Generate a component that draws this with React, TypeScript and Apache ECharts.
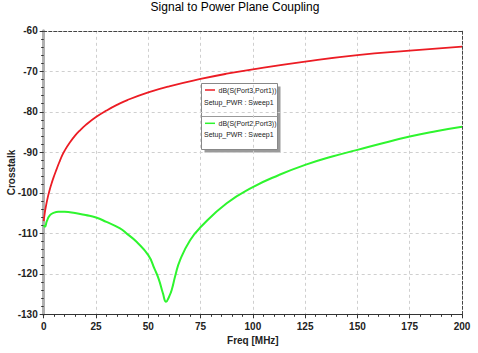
import React, { useEffect, useRef } from "react";
import * as echarts from "echarts";

const freqRed = [0, 0.5, 1, 2, 3, 4, 5, 6, 7.5, 9, 10, 12.5, 15, 17.5, 20, 25, 30, 35, 40, 50, 60, 75, 87.5, 100, 125, 150, 175, 200];
const valRed = [-107, -105, -103.5, -101, -99, -97.3, -95.8, -94.4, -92.4, -90.6, -89.6, -87.6, -85.9, -84.5, -83.3, -81.3, -79.7, -78.3, -77.1, -75.2, -73.7, -71.9, -70.6, -69.5, -67.6, -66, -64.9, -63.9];

const freqGreen = [0, 0.6, 1.5, 3, 5, 7, 10, 15, 20, 25, 30, 36.5, 40, 44.4, 50, 53, 55, 57, 58.5, 60, 61.2, 63, 65.2, 70, 75.2, 87.5, 100, 112.5, 125, 137.5, 150, 162.5, 175, 187.5, 200];
const valGreen = [-108, -108.4, -107, -105.5, -104.9, -104.7, -104.7, -105, -105.5, -106.1, -107.2, -108.8, -110.2, -112.1, -115.4, -118.8, -121.3, -124.8, -126.9, -125.6, -124, -120.3, -116.6, -111.7, -108.4, -102.6, -98.6, -95.6, -93.1, -91.1, -89.4, -87.7, -86.1, -84.8, -83.7];

const seriesNames = ["dB(S(Port3,Port1))", "dB(S(Port2,Port3))"];
const setupLabel = "Setup_PWR : Sweep1";
const xTicks = { min: 0, max: 200, interval: 25 };
const yTicks = { min: -130, max: -60, interval: 10 };

const FONT = "Liberation Sans, Arial, sans-serif";
const RED = "#ec1c24";
const GREEN = "#2ef52e";

export default function App() {
  const ref = useRef<HTMLDivElement>(null);
  useEffect(() => {
    document.body.style.margin = "0";
    if (!ref.current) return;
    const chart = echarts.init(ref.current, undefined, { renderer: "svg" });
    const lx = 201.5, ly = 83.5, lw = 76, lh = 66;
    chart.setOption({
      animation: false,
      backgroundColor: "#ffffff",
      title: {
        text: "Signal to Power Plane Coupling",
        left: 235,
        textAlign: "center",
        top: 1,
        padding: 0,
        textStyle: { fontFamily: FONT, fontSize: 12, fontWeight: "normal", color: "#000" },
      },
      grid: { left: 43.7, right: 16, top: 30.8, bottom: 38.7, containLabel: false, outerBoundsMode: "none" },
      xAxis: [
        {
          type: "value",
          min: xTicks.min,
          max: xTicks.max,
          interval: xTicks.interval,
          name: "Freq [MHz]",
          nameLocation: "middle",
          nameGap: 21,
          nameMoveOverlap: false,
          nameTextStyle: { fontFamily: FONT, fontSize: 10, fontWeight: "bold", color: "#222" },
          axisLine: { onZero: false, lineStyle: { color: "#333", width: 1.2 } },
          axisTick: { show: true, length: 4, lineStyle: { color: "#333" } },
          minorTick: { show: true, splitNumber: 5, length: 2.5, lineStyle: { color: "#333" } },
          axisLabel: { fontFamily: FONT, fontSize: 10, fontWeight: "bold", color: "#222", margin: 7 },
          splitLine: { show: true, lineStyle: { color: "#cfcfcf", type: [3, 3], width: 1 } },
        },
        {
          type: "value",
          position: "top",
          min: xTicks.min,
          max: xTicks.max,
          interval: xTicks.interval,
          axisLine: { show: true, onZero: false, lineStyle: { color: "#444", type: [3, 2], width: 1 } },
          axisTick: { show: false },
          axisLabel: { show: false },
          splitLine: { show: false },
        },
      ],
      yAxis: [
        {
          type: "value",
          min: yTicks.min,
          max: yTicks.max,
          interval: yTicks.interval,
          name: "Crosstalk",
          nameLocation: "middle",
          nameGap: 27,
          nameMoveOverlap: false,
          nameRotate: 90,
          nameTextStyle: { fontFamily: FONT, fontSize: 10, fontWeight: "bold", color: "#222" },
          axisLine: { onZero: false, lineStyle: { color: "#b0b0b0", width: 3 } },
          axisTick: { show: true, length: 4, lineStyle: { color: "#333" } },
          minorTick: { show: true, splitNumber: 5, length: 2.5, lineStyle: { color: "#333" } },
          axisLabel: { fontFamily: FONT, fontSize: 10, fontWeight: "bold", color: "#222", margin: 6 },
          splitLine: { show: true, lineStyle: { color: "#cfcfcf", type: [3, 3], width: 1 } },
        },
        {
          type: "value",
          position: "right",
          min: yTicks.min,
          max: yTicks.max,
          interval: yTicks.interval,
          axisLine: { show: true, onZero: false, lineStyle: { color: "#444", type: [3, 2], width: 1 } },
          axisTick: { show: false },
          axisLabel: { show: false },
          splitLine: { show: false },
        },
      ],
      series: [
        {
          name: seriesNames[0],
          type: "line",
          smooth: 0.5,
          showSymbol: false,
          lineStyle: { color: RED, width: 1.8 },
          itemStyle: { color: RED },
          data: freqRed.map((f, i) => [f, valRed[i]]),
          z: 3,
        },
        {
          name: seriesNames[1],
          type: "line",
          smooth: 0.5,
          showSymbol: false,
          lineStyle: { color: GREEN, width: 2 },
          itemStyle: { color: GREEN },
          data: freqGreen.map((f, i) => [f, valGreen[i]]),
          z: 3,
        },
      ],
      graphic: [
        {
          type: "group",
          z: 100,
          children: [
            { type: "rect", shape: { x: lx + 3, y: ly + 3, width: lw, height: lh }, style: { fill: "#9a9a9a" } },
            { type: "rect", shape: { x: lx, y: ly, width: lw, height: lh }, style: { fill: "#fff", stroke: "#888", lineWidth: 1 } },
            { type: "line", shape: { x1: lx, y1: ly + 33, x2: lx + lw, y2: ly + 33 }, style: { stroke: "#999", lineWidth: 1 } },
            { type: "line", shape: { x1: lx + 3.5, y1: ly + 6.5, x2: lx + 13.5, y2: ly + 6.5 }, style: { stroke: RED, lineWidth: 1.5 } },
            { type: "text", x: lx + 75, y: ly + 6.8, style: { text: seriesNames[0], fontFamily: FONT, fontSize: 7, fill: "#222", align: "right", verticalAlign: "middle" } },
            { type: "text", x: lx + 2.5, y: ly + 18.8, style: { text: setupLabel, fontFamily: FONT, fontSize: 7, fill: "#222", align: "left", verticalAlign: "middle" } },
            { type: "line", shape: { x1: lx + 3.5, y1: ly + 39.8, x2: lx + 13.5, y2: ly + 39.8 }, style: { stroke: GREEN, lineWidth: 1.5 } },
            { type: "text", x: lx + 75, y: ly + 40, style: { text: seriesNames[1], fontFamily: FONT, fontSize: 7, fill: "#222", align: "right", verticalAlign: "middle" } },
            { type: "text", x: lx + 2.5, y: ly + 50.7, style: { text: setupLabel, fontFamily: FONT, fontSize: 7, fill: "#222", align: "left", verticalAlign: "middle" } },
          ],
        },
      ],
    });
    return () => chart.dispose();
  }, []);
  return <div ref={ref} style={{ width: 478, height: 353 }} />;
}
